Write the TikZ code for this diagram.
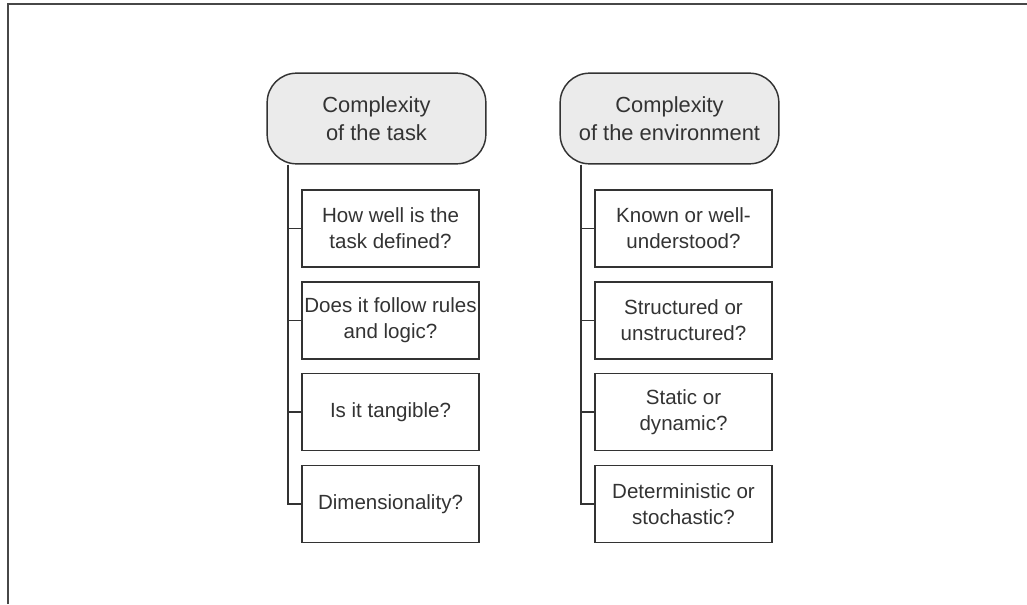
\documentclass[tikz,border=0pt]{standalone}
\usepackage{fontspec}
\setmainfont{Liberation Sans}
\definecolor{ink}{HTML}{333333}
\definecolor{headfill}{HTML}{EBEBEB}
\begin{document}
\begin{tikzpicture}[x=0.75pt,y=-0.75pt,
  every node/.style={font=\fontsize{15.4}{19.3}\selectfont, text=ink, align=center, inner sep=0pt},
  head/.style={draw=ink, line width=1.1pt, fill=headfill, rounded corners=22pt, minimum width=164pt, minimum height=68pt, font=\fontsize{16.4}{21}\selectfont},
  qbox/.style={draw=ink, line width=1.1pt, fill=white, minimum width=133pt, minimum height=58pt},
  link/.style={draw=ink, line width=1.1pt},
  frame/.style={draw=ink!90, line width=1.4pt}]
\useasboundingbox (0,0) rectangle (1027,604);
\draw[frame] (8,604) -- (8,4) -- (1027,4);
% left column
\node[head] (h1) at (376.5,118.5) {Complexity\\of the task};
\coordinate (tl) at (288,0);
\node[qbox] (a1) at (390.5,228.5) {How well is the\\task defined?};
\node[qbox] (a2) at (390.5,320.5) {Does it follow rules\\and logic?};
\node[qbox] (a3) at (390.5,412) {Is it tangible?};
\node[qbox] (a4) at (390.5,504) {Dimensionality?};
\draw[link] (h1.south -| tl) |- (a4.west);
\foreach \b in {a1,a2,a3} \draw[link] (tl |- \b.west) -- (\b.west);
% right column
\node[head] (h2) at (669.5,118.5) {Complexity\\of the environment};
\coordinate (tr) at (581,0);
\node[qbox] (b1) at (683.5,228.5) {Known or well-\\understood?};
\node[qbox] (b2) at (683.5,320.5) {Structured or\\unstructured?};
\node[qbox] (b3) at (683.5,412) {Static or\\dynamic?};
\node[qbox] (b4) at (683.5,504) {Deterministic or\\stochastic?};
\draw[link] (h2.south -| tr) |- (b4.west);
\foreach \b in {b1,b2,b3} \draw[link] (tr |- \b.west) -- (\b.west);
\end{tikzpicture}
\end{document}
